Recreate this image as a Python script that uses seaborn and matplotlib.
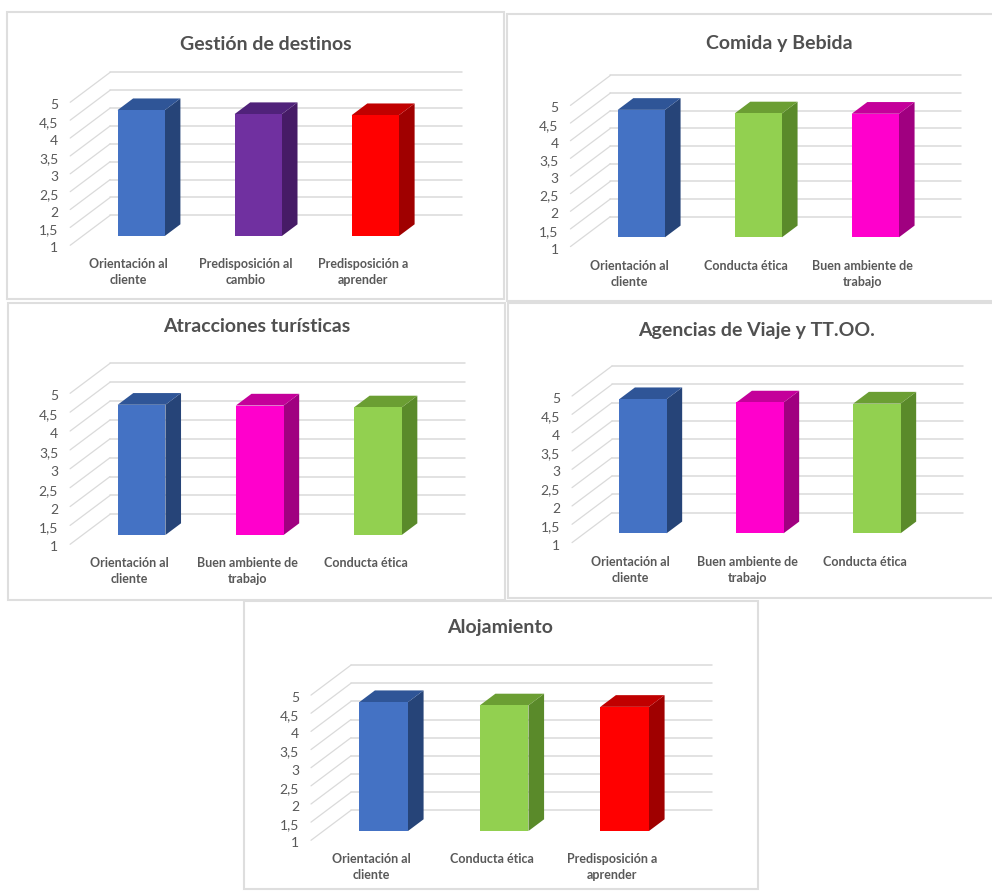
import matplotlib
matplotlib.use("Agg")
import matplotlib.pyplot as plt
from matplotlib.patches import Rectangle
from matplotlib.transforms import Affine2D
import pandas as pd
import seaborn as sns

# Survey scores per tourism sector
titles = ["Gestión de destinos", "Comida y Bebida", "Atracciones turísticas",
          "Agencias de Viaje y TT.OO.", "Alojamiento"]

labels_gestion = ["Orientación al\ncliente", "Predisposición al\ncambio", "Predisposición a\naprender"]
labels_comida = ["Orientación al\ncliente", "Conducta ética", "Buen ambiente de\ntrabajo"]
labels_atracciones = ["Orientación al\ncliente", "Buen ambiente de\ntrabajo", "Conducta ética"]
labels_agencias = ["Orientación al\ncliente", "Buen ambiente de\ntrabajo", "Conducta ética"]
labels_alojamiento = ["Orientación al\ncliente", "Conducta ética", "Predisposición a\naprender"]

values_gestion = [4.52, 4.41, 4.38]
values_comida = [4.61, 4.51, 4.50]
values_atracciones = [4.45, 4.43, 4.38]
values_agencias = [4.66, 4.57, 4.54]
values_alojamiento = [4.55, 4.46, 4.42]

# Face colours of each competency: front, side, top
BLUE = ("#4472C4", "#264478", "#2F5597")
PURPLE = ("#7030A0", "#461B66", "#50227A")
RED = ("#FF0000", "#A00000", "#C00000")
GREEN = ("#92D050", "#5A8A2A", "#6B9E33")
MAGENTA = ("#FF00CC", "#A00080", "#C4009A")

colors_gestion = [BLUE, PURPLE, RED]
colors_comida = [BLUE, GREEN, MAGENTA]
colors_atracciones = [BLUE, MAGENTA, GREEN]
colors_agencias = [BLUE, MAGENTA, GREEN]
colors_alojamiento = [BLUE, GREEN, RED]

tick_levels = [1, 1.5, 2, 2.5, 3, 3.5, 4, 4.5, 5]
tick_labels = ["1", "1,5", "2", "2,5", "3", "3,5", "4", "4,5", "5"]

# Layout in pixels from the top-left corner of the canvas
W, H = 992, 892
BAR_SHARE = 0.404
# frame (x0, y0, x1, y1), first bar left, third bar left, baseline, px per unit, title x, title y
layouts = [
    ((7, 12, 504, 299), 117.5, 351.7, 236.0, 35.75, 266, 44),
    ((507, 14, 996, 301), 617.7, 851.7, 237.3, 35.3, 779, 43),
    ((8, 303, 505, 600), 117.7, 354.0, 535.0, 37.75, 257, 327),
    ((508, 303, 996, 598), 619.3, 853.3, 533.3, 36.65, 757, 330),
    ((244, 601, 758, 889), 359.3, 600.3, 831.0, 36.3, 500, 628),
]

# Oblique projection of the chart box, in pixels per unit of depth
DEPTH_X, DEPTH_Y = 40.0, 30.0
WALL_FRONT, WALL_BACK, BAR_BACK = -0.31, 0.69, 0.39

GRID = "#DADADA"
TEXT = "#595959"

sns.set_theme(style="white")
plt.rcParams["font.family"] = ["Lato", "DejaVu Sans"]

fig = plt.figure(figsize=(W / 100, H / 100), dpi=100, facecolor="white")


def draw_panel(title, labels, values, colors, layout):
    frame, bar1, bar3, base, unit, tx, ty = layout
    fx0, fy0, fx1, fy1 = frame
    fig.add_artist(Rectangle((fx0 / W, 1 - fy1 / H), (fx1 - fx0) / W, (fy1 - fy0) / H,
                             transform=fig.transFigure, facecolor="white",
                             edgecolor="#DEDEDE", linewidth=1.5, zorder=0))

    step = (bar3 - bar1) / 2
    left = bar1 + BAR_SHARE * step / 2 - step / 2
    ax = fig.add_axes([left / W, 1 - base / H, 3 * step / W, 4 * unit / H])
    ax.patch.set_alpha(0)

    frame_data = pd.DataFrame({"competencia": labels, "valor": values})
    sns.barplot(data=frame_data, x="competencia", y="valor", hue="competencia",
                palette=[c[0] for c in colors], width=BAR_SHARE, saturation=1,
                linewidth=0, edgecolor="none", legend=False, ax=ax)
    ax.set_xlim(-0.5, 2.5)
    ax.set_ylim(1, 5)
    for patch in ax.patches:
        patch.set_zorder(4)

    # Depth expressed in data units, so the box follows the axis scales
    kx, ky = DEPTH_X / step, DEPTH_Y / unit

    for level in tick_levels:
        ax.plot([-0.5 + WALL_FRONT * kx, -0.5 + WALL_BACK * kx],
                [level + WALL_FRONT * ky, level + WALL_BACK * ky],
                color=GRID, lw=0.9, clip_on=False, zorder=1)
        ax.plot([-0.5 + WALL_BACK * kx, 2.5 + WALL_BACK * kx],
                [level + WALL_BACK * ky] * 2,
                color=GRID, lw=1.1, clip_on=False, zorder=1)

    half = BAR_SHARE / 2
    for i, (value, (_, side, top)) in enumerate(zip(values, colors)):
        x0, x1 = i - half, i + half
        bx, by = BAR_BACK * kx, BAR_BACK * ky
        ax.fill([x1, x1 + bx, x1 + bx, x1], [1, 1 + by, value + by, value],
                color=side, lw=0, clip_on=False, zorder=3)
        ax.fill([x0, x0 + bx, x1 + bx, x1], [value, value + by, value + by, value],
                color=top, lw=0, clip_on=False, zorder=3)

    sns.despine(ax=ax, left=True, bottom=True)
    ax.set_xlabel("")
    ax.set_ylabel("")
    ax.set_yticks(tick_levels, tick_labels)
    ax.tick_params(axis="y", length=0, pad=8.6, labelsize=10, labelcolor=TEXT)
    ax.tick_params(axis="x", length=0, pad=8.6, labelsize=9, labelcolor=TEXT)

    # Tick labels sit on the front edge of the box rather than on the bar plane
    front_x, front_y = WALL_FRONT * DEPTH_X, WALL_FRONT * DEPTH_Y
    y_shift = Affine2D().translate(front_x, front_y - 2)
    x_shift = Affine2D().translate(front_x, front_y - 1)
    for label in ax.get_yticklabels():
        label.set_transform(label.get_transform() + y_shift)
    for label in ax.get_xticklabels():
        label.set_transform(label.get_transform() + x_shift)
        label.set_fontweight("bold")
        label.set_linespacing(1.4)

    fig.text(tx / W, 1 - ty / H, title, ha="center", va="center",
             fontsize=14, fontweight="bold", color="#505050")


draw_panel(titles[0], labels_gestion, values_gestion, colors_gestion, layouts[0])
draw_panel(titles[1], labels_comida, values_comida, colors_comida, layouts[1])
draw_panel(titles[2], labels_atracciones, values_atracciones, colors_atracciones, layouts[2])
draw_panel(titles[3], labels_agencias, values_agencias, colors_agencias, layouts[3])
draw_panel(titles[4], labels_alojamiento, values_alojamiento, colors_alojamiento, layouts[4])

fig.savefig("out.png", dpi=100)
